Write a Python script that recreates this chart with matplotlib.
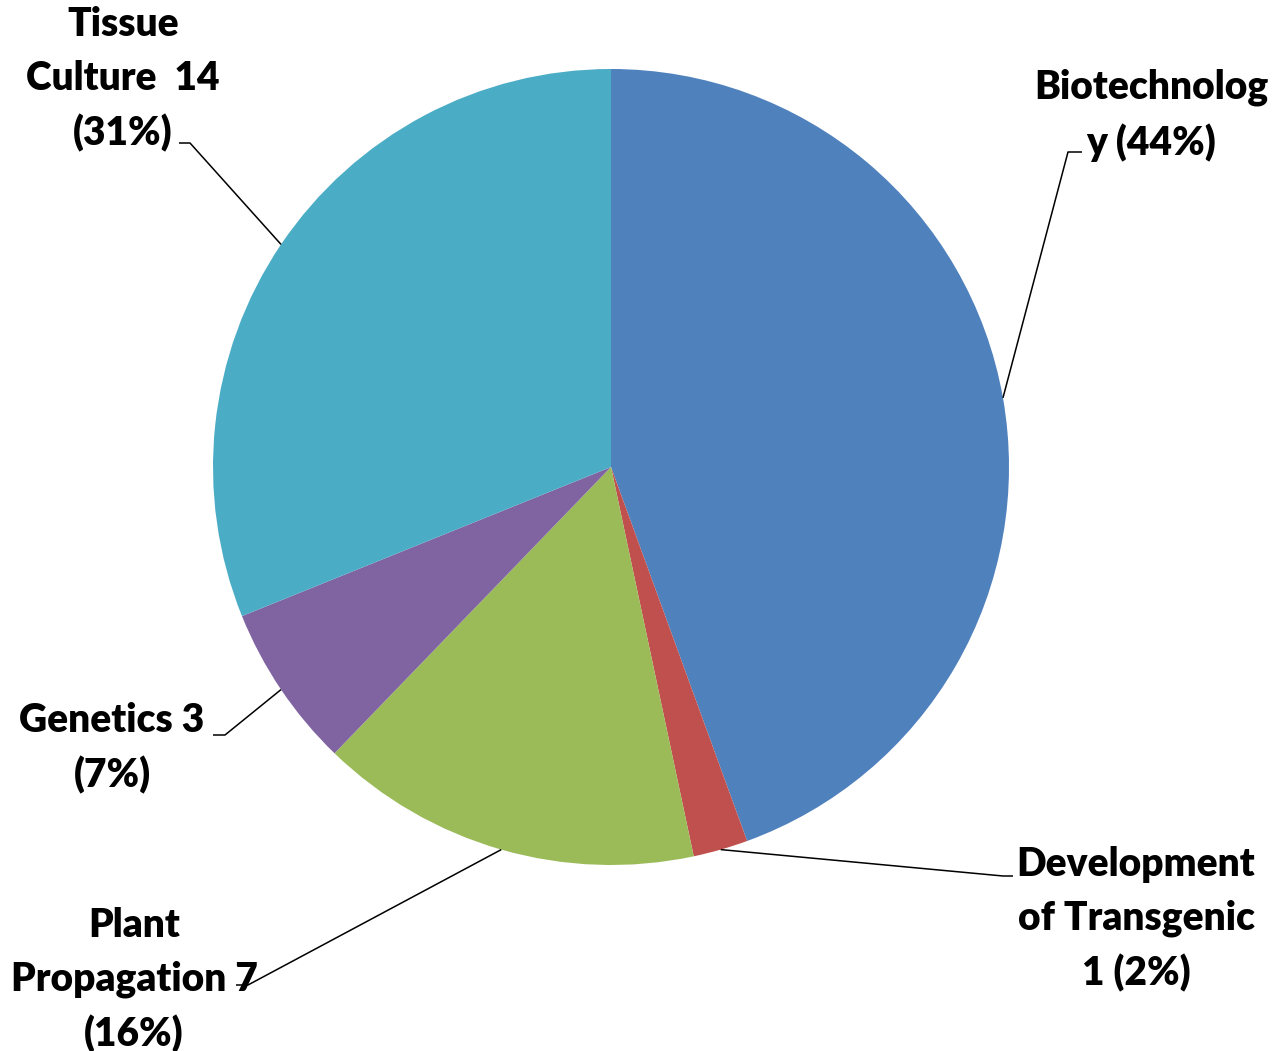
import numpy as np
import matplotlib.pyplot as plt

# data
categories = ["Biotechnology", "Development of Transgenic", "Plant Propagation",
              "Genetics", "Tissue Culture"]
values = [20, 1, 7, 3, 14]
labels = ["Biotechnolog\ny ({p}%)",
          "Development\nof Transgenic\n1 ({p}%)",
          "Plant\nPropagation 7\n({p}%)",
          "Genetics 3\n({p}%)",
          "Tissue\nCulture  14\n({p}%)"]
colors = ["#4F81BD", "#C0504D", "#9BBB59", "#8064A2", "#4BACC6"]

W, H = 1272, 1051
fig = plt.figure(figsize=(W / 100, H / 100), dpi=100)
ax = fig.add_axes([0, 0, 1, 1])

cx, cy, r = 611, H - 467, 398
wedges, _ = ax.pie(values, colors=colors, startangle=90, counterclock=False,
                   center=(cx, cy), radius=r, frame=True,
                   wedgeprops=dict(linewidth=0))
ax.set_xlim(0, W)
ax.set_ylim(0, H)
ax.axis("off")

# label layout (pixel coords from top): text centre, elbow, line end
text_pos = [(1151, 115), (1136, 919), (134, 980), (112, 748), (123, 79)]
elbows = [(1068, 152), (1003, 876), (248, 985), (225, 735), (190, 143)]
ends = [(1082, 152), (1013, 876), (236, 985), (213, 735), (179, 143)]

total = sum(values)
for w, v, lab, tp, el, en in zip(wedges, values, labels, text_pos, elbows, ends):
    ang = np.deg2rad((w.theta1 + w.theta2) / 2)
    ex, ey = cx + r * np.cos(ang), cy + r * np.sin(ang)
    ax.plot([ex, el[0], en[0]], [ey, H - el[1], H - en[1]],
            color="black", lw=1.1, solid_capstyle="butt")
    p = round(v / total * 100)
    ax.text(tp[0], H - tp[1], lab.format(p=p), ha="center", va="center",
            fontsize=28, fontweight="heavy", family=["Lato", "DejaVu Sans"],
            linespacing=1.55)

fig.savefig("out.png", dpi=100)
